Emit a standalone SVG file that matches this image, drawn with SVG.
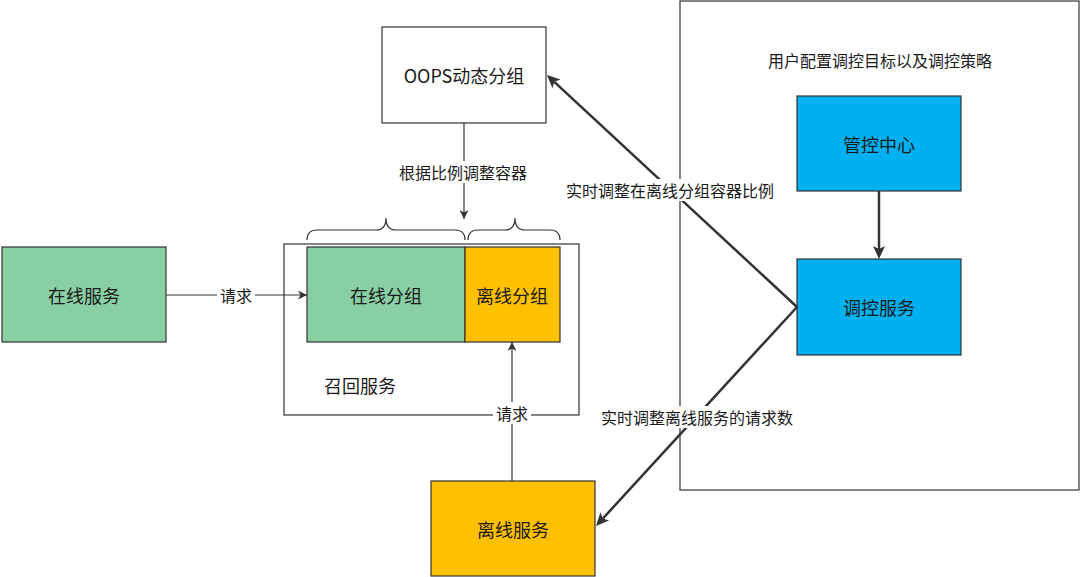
<svg xmlns="http://www.w3.org/2000/svg" width="1080" height="577" viewBox="0 0 1080 577">
<defs>
<style>
.box{stroke:#333;stroke-width:1.2}
.t{font-family:"Noto Sans CJK SC","Noto Sans",sans-serif;fill:#1a1a1a;text-anchor:middle;dominant-baseline:central}
.big{font-size:18px}
.lab{font-size:16px}
.thin{stroke:#333;stroke-width:1.2;fill:none}
.thick{stroke:#333;stroke-width:2.5;fill:none}
</style>
<marker id="ah" markerUnits="userSpaceOnUse" markerWidth="10" markerHeight="9" refX="9" refY="4.5" orient="auto">
<path d="M0,0 L9,4.5 L0,9 L2.5,4.5 z" fill="#333"/>
</marker>
<marker id="ahb" markerUnits="userSpaceOnUse" markerWidth="14" markerHeight="12" refX="3" refY="6" orient="auto">
<path d="M0,0 L13,6 L0,12 L3,6 z" fill="#333"/>
</marker>
</defs>
<rect width="1080" height="577" fill="#fff"/>

<g id="control-area">
<rect x="680" y="1" width="399" height="489" fill="#fff" class="box"/>
<text class="t lab" x="880" y="60">用户配置调控目标以及调控策略</text>
</g>

<g id="recall-service">
<rect x="284" y="244" width="295" height="171" fill="#fff" class="box"/>
<text class="t big" x="360" y="385">召回服务</text>
</g>

<g id="online-group">
<rect x="307" y="247" width="158" height="95" fill="#88D0A4" class="box"/>
<text class="t big" x="386" y="295">在线分组</text>
</g>

<g id="offline-group">
<rect x="465" y="247" width="95" height="95" fill="#FFC000" class="box"/>
<text class="t big" x="512" y="295">离线分组</text>
</g>

<g id="braces">
<path class="thin" d="M307,240 Q307,230 317,230 L376,230 Q386,230 386,218 Q386,230 396,230 L455,230 Q465,230 465,240"/>
<path class="thin" d="M468,240 Q468,230 478,230 L505,230 Q515,230 515,218 Q515,230 525,230 L550,230 Q560,230 560,240"/>
</g>

<g id="oops">
<rect x="382" y="27" width="164" height="96" fill="#fff" class="box"/>
<text class="t big" x="464" y="75">OOPS动态分组</text>
</g>

<g id="online-service">
<rect x="2" y="247" width="164" height="95" fill="#88D0A4" class="box"/>
<text class="t big" x="84" y="295">在线服务</text>
</g>

<g id="offline-service">
<rect x="431" y="481" width="164" height="95" fill="#FFC000" class="box"/>
<text class="t big" x="513" y="529">离线服务</text>
</g>

<g id="control-center">
<rect x="797" y="96" width="164" height="95" fill="#00B0F0" class="box"/>
<text class="t big" x="879" y="144">管控中心</text>
</g>

<g id="control-service">
<rect x="797" y="259" width="164" height="96" fill="#00B0F0" class="box"/>
<text class="t big" x="879" y="307">调控服务</text>
</g>

<g id="connectors">
<line class="thin" x1="166" y1="295" x2="307" y2="295" marker-end="url(#ah)"/>
<line class="thin" x1="464" y1="123" x2="464" y2="219" marker-end="url(#ah)"/>
<line class="thin" x1="512" y1="481" x2="512" y2="342" marker-end="url(#ah)"/>
<line class="thick" x1="879" y1="191" x2="879" y2="249" marker-end="url(#ahb)"/>
<line class="thick" x1="797" y1="307" x2="554.3" y2="81.8" marker-end="url(#ahb)"/>
<line class="thick" x1="797" y1="307" x2="602.8" y2="518.6" marker-end="url(#ahb)"/>
</g>

<g id="labels">
<rect x="217" y="285" width="38" height="20" fill="#fff"/>
<text class="t lab" x="236" y="295">请求</text>
<rect x="395" y="161" width="137" height="22" fill="#fff"/>
<text class="t lab" x="463" y="172">根据比例调整容器</text>
<rect x="493" y="402" width="38" height="22" fill="#fff"/>
<text class="t lab" x="512" y="413">请求</text>
<rect x="561" y="179" width="219" height="22" fill="#fff"/>
<text class="t lab" x="670" y="190">实时调整在离线分组容器比例</text>
<rect x="595" y="406" width="204" height="22" fill="#fff"/>
<text class="t lab" x="697" y="417">实时调整离线服务的请求数</text>
</g>
</svg>
